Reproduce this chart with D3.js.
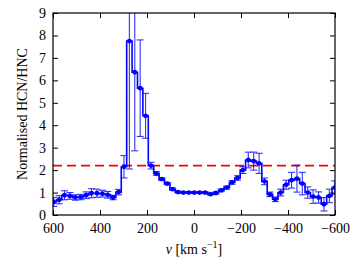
<!DOCTYPE html>
<html><head><meta charset="utf-8">
<script src="https://cdn.jsdelivr.net/npm/d3@7"></script>
<style>
html,body{margin:0;padding:0;background:#fff;}
</style></head>
<body><svg id="c" width="353" height="264"></svg>
<script>
// Velocity channels (km/s) and normalised HCN/HNC ratio with 1-sigma errors
const velocities = d3.range(53).map(i => 597 - 23 * i);
const ratio = [0.58,0.68,0.88,0.85,0.78,0.80,0.88,0.97,0.97,0.95,0.90,0.78,1.02,
  2.15,7.75,6.36,5.65,4.42,2.20,1.85,1.60,1.40,1.15,1.02,1.00,1.00,1.00,1.00,1.00,0.93,
  0.98,1.10,1.22,1.45,1.65,2.00,2.45,2.40,2.30,1.50,0.92,0.70,1.00,1.35,1.55,1.62,1.40,
  1.00,0.82,0.78,0.48,0.85,1.22];
const ratioErr = [0.20,0.18,0.20,0.15,0.12,0.12,0.15,0.20,0.18,0.15,0.15,0.10,0.12,
  0.50,5.70,3.50,2.15,1.00,0.15,0.08,0.06,0.05,0.05,0.04,0.04,0.04,0.04,0.04,0.04,0.04,
  0.05,0.06,0.07,0.08,0.10,0.15,0.35,0.40,0.45,0.15,0.10,0.10,0.15,0.20,0.35,0.60,0.50,
  0.25,0.30,0.25,0.30,0.30,0.30];
const threshold = 2.2;
const xTicks = [600,400,200,0,-200,-400,-600];
const yTicks = [0,1,2,3,4,5,6,7,8,9];

const FONT = '"Liberation Serif", "Times New Roman", serif';
const svg = d3.select("#c");
const L = 53, R = 335, T = 13, B = 215;
const x = d3.scaleLinear().domain([600,-600]).range([L,R]);
const y = d3.scaleLinear().domain([0,9]).range([B,T]);

svg.append("defs").append("clipPath").attr("id","clip")
  .append("rect").attr("x",L).attr("y",T).attr("width",R-L).attr("height",B-T);

const data = velocities.map((v,i)=>({v, r:ratio[i], e:ratioErr[i]}));
const g = svg.append("g").attr("clip-path","url(#clip)");

g.append("line").attr("x1",L).attr("x2",R).attr("y1",y(threshold)).attr("y2",y(threshold))
  .attr("stroke","#ff0000").attr("stroke-width",1.6).attr("stroke-dasharray","9,5");

const eb = g.append("g").attr("stroke","#0000ff").attr("stroke-width",1.1).attr("opacity",0.8);
data.forEach(d=>{
  const cx = x(d.v);
  eb.append("line").attr("x1",cx).attr("x2",cx).attr("y1",y(d.r-d.e)).attr("y2",y(d.r+d.e));
  [d.r-d.e, d.r+d.e].forEach(val=>{
    eb.append("line").attr("x1",cx-3.5).attr("x2",cx+3.5).attr("y1",y(val)).attr("y2",y(val));
  });
});

const line = d3.line().x(d=>x(d.v)).y(d=>y(d.r)).curve(d3.curveStep);
g.append("path").datum(data).attr("d",line).attr("fill","none")
  .attr("stroke","#0000ff").attr("stroke-width",1.6);

g.selectAll("circle.m").data(data).join("circle").attr("class","m")
  .attr("cx",d=>x(d.v)).attr("cy",d=>y(d.r)).attr("r",2.4).attr("fill","#0000ff");

const fs = "14px";
const axB = svg.append("g").attr("transform",`translate(0,${B})`)
  .call(d3.axisBottom(x).tickValues(xTicks).tickSizeInner(-5).tickSizeOuter(0).tickPadding(8)
    .tickFormat(d=> d<0 ? "\u2212"+Math.abs(d) : d));
const axT = svg.append("g").attr("transform",`translate(0,${T})`)
  .call(d3.axisTop(x).tickValues(xTicks).tickSizeInner(-5).tickSizeOuter(0).tickFormat(""));
const axL = svg.append("g").attr("transform",`translate(${L},0)`)
  .call(d3.axisLeft(y).tickValues(yTicks).tickSizeInner(-5).tickSizeOuter(0).tickPadding(7));
const axR = svg.append("g").attr("transform",`translate(${R},0)`)
  .call(d3.axisRight(y).tickValues(yTicks).tickSizeInner(-5).tickSizeOuter(0).tickFormat(""));
[axB,axT,axL,axR].forEach(a=>{
  a.attr("font-family",FONT).attr("font-size",fs);
  a.select(".domain").remove();
  a.selectAll("line").attr("stroke","#000").attr("stroke-width",1);
  a.selectAll("text").attr("fill","#000");
});
svg.append("rect").attr("x",L).attr("y",T).attr("width",R-L).attr("height",B-T)
  .attr("fill","none").attr("stroke","#000").attr("stroke-width",1.2);

svg.append("text").attr("transform",`translate(24,${(T+B)/2}) rotate(-90)`)
  .attr("text-anchor","middle").attr("dominant-baseline","middle")
  .style("font-family",FONT).style("font-size",fs).text("Normalised HCN/HNC");
const xl = svg.append("text").attr("x",(L+R)/2).attr("y",254).attr("text-anchor","middle")
  .style("font-family",FONT).style("font-size",fs);
xl.append("tspan").attr("font-style","italic").text("v");
xl.append("tspan").text(" [km s");
xl.append("tspan").style("font-size","10px").attr("dy",-6).text("\u22121");
xl.append("tspan").attr("dy",6).text("]");
</script></body></html>
